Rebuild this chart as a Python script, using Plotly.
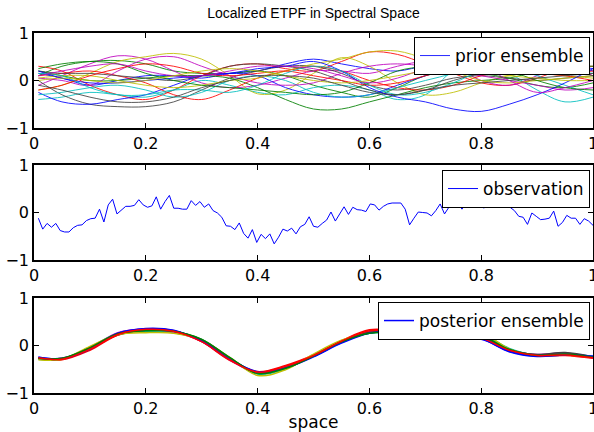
import plotly.graph_objects as go

# ---------------- data ----------------
KNOT_X = [0.0078, 0.05, 0.10, 0.15, 0.20, 0.25, 0.30, 0.35, 0.40, 0.45, 0.50,
          0.55, 0.60, 0.65, 0.70, 0.75, 0.80, 0.85, 0.90, 0.95, 1.00]

prior_1 = [0.15, 0.05, -0.1, 0.0, 0.1, 0.1, 0.05, 0.15, 0.2, 0.35, 0.45, 0.35, 0.25, 0.2, 0.3, 0.25, 0.2, 0.25, 0.35, 0.35, 0.2]
prior_2 = [0.1, 0.3, 0.4, 0.42, 0.35, 0.2, 0.15, 0.15, 0.2, 0.1, -0.1, -0.25, -0.35, -0.15, 0.1, 0.2, 0.15, 0.05, -0.1, -0.15, -0.05]
prior_3 = [0.3, 0.2, -0.1, -0.3, -0.4, -0.2, 0.1, 0.3, 0.35, 0.25, 0.2, 0.4, 0.6, 0.55, 0.35, 0.15, -0.05, -0.1, 0.05, 0.25, 0.3]
prior_4 = [-0.4, -0.35, -0.25, -0.3, -0.35, -0.2, 0.0, -0.1, -0.25, -0.3, -0.15, -0.1, -0.2, -0.4, -0.3, 0.2, 0.35, 0.15, -0.2, -0.45, -0.35]
prior_5 = [-0.1, 0.1, 0.35, 0.52, 0.45, 0.2, -0.05, -0.15, -0.1, 0.05, 0.2, 0.2, 0.15, 0.3, 0.4, 0.3, 0.0, -0.1, 0.1, 0.3, 0.1]
prior_6 = [-0.2, -0.1, 0.15, 0.4, 0.5, 0.57, 0.45, 0.1, -0.28, -0.2, 0.15, 0.48, 0.3, -0.05, -0.3, -0.25, -0.05, 0.1, 0.15, 0.1, 0.05]
prior_7 = [0.0, -0.3, -0.5, -0.55, -0.55, -0.45, -0.2, 0.05, 0.2, 0.3, 0.3, 0.15, -0.1, -0.2, -0.1, 0.05, 0.1, 0.05, 0.0, 0.05, 0.1]
prior_8 = [-0.25, -0.45, -0.5, -0.4, -0.3, -0.1, 0.1, 0.15, 0.1, -0.15, -0.3, -0.35, -0.3, -0.1, 0.1, 0.25, 0.3, 0.25, 0.2, 0.3, 0.25]
prior_9 = [0.2, 0.1, 0.0, 0.0, 0.05, 0.1, 0.1, 0.05, -0.15, -0.4, -0.6, -0.6, -0.45, -0.3, -0.15, -0.05, 0.0, 0.05, 0.2, 0.3, 0.3]
prior_10 = [0.1, 0.15, 0.2, 0.1, -0.05, -0.3, -0.4, -0.2, 0.05, 0.2, 0.3, 0.2, 0.0, -0.15, -0.2, -0.1, 0.1, 0.2, 0.15, 0.1, 0.0]
prior_11 = [-0.3, -0.25, -0.15, -0.1, -0.2, -0.35, -0.25, 0.0, 0.1, 0.0, -0.25, -0.35, -0.3, -0.15, 0.0, 0.15, 0.35, 0.3, 0.1, -0.1, -0.3]
prior_12 = [0.05, 0.0, -0.1, 0.2, 0.45, 0.5, 0.3, 0.1, -0.05, -0.1, -0.05, 0.15, 0.3, 0.35, 0.3, 0.2, 0.1, 0.0, -0.1, -0.2, -0.15]
prior_13 = [0.05, 0.1, 0.1, 0.0, -0.1, -0.15, -0.1, 0.0, 0.05, 0.2, 0.35, 0.45, 0.6, 0.62, 0.45, 0.2, 0.0, -0.05, 0.0, 0.05, 0.1]
prior_14 = [0.2, 0.15, 0.15, 0.1, 0.05, 0.0, 0.1, 0.3, 0.35, 0.3, 0.2, 0.0, -0.2, -0.3, -0.2, 0.0, 0.15, 0.25, 0.3, 0.25, 0.1]
prior_15 = [0.2, 0.05, -0.05, -0.05, 0.0, 0.05, 0.1, 0.15, 0.25, 0.3, 0.4, 0.2, -0.15, -0.35, -0.45, -0.6, -0.65, -0.5, -0.3, -0.05, 0.25]
prior_16 = [0.25, 0.35, 0.4, 0.35, 0.15, 0.0, -0.1, -0.15, -0.2, -0.25, -0.3, -0.25, -0.05, 0.2, 0.3, 0.35, 0.3, 0.2, 0.0, -0.15, -0.2]
prior_17 = [-0.2, -0.1, 0.1, 0.25, 0.35, 0.3, 0.15, 0.1, 0.15, 0.2, 0.1, 0.0, -0.1, -0.05, 0.1, 0.25, 0.35, 0.3, 0.2, 0.15, 0.2]
prior_18 = [0.15, 0.1, -0.15, -0.3, -0.3, -0.2, -0.2, -0.25, -0.1, 0.15, 0.3, 0.2, -0.1, -0.3, -0.25, -0.05, 0.2, 0.35, 0.4, 0.25, 0.15]
prior_19 = [0.1, 0.2, 0.3, 0.35, 0.2, 0.1, 0.1, 0.2, 0.3, 0.3, 0.25, 0.1, -0.05, 0.05, 0.25, 0.35, 0.3, 0.0, -0.25, -0.15, 0.0]
prior_20 = [0.0, 0.05, 0.0, -0.05, 0.0, 0.1, 0.2, 0.25, 0.2, 0.1, 0.0, -0.05, 0.0, 0.1, 0.2, 0.25, 0.2, 0.1, 0.05, 0.0, 0.0]
prior_21 = [-0.1, -0.2, -0.35, -0.45, -0.45, -0.35, -0.15, 0.0, 0.1, 0.1, 0.05, -0.1, -0.25, -0.3, -0.2, -0.1, -0.05, 0.0, 0.05, 0.1, 0.15]

PRIOR = [prior_1, prior_2, prior_3, prior_4, prior_5, prior_6, prior_7,
         prior_8, prior_9, prior_10, prior_11, prior_12, prior_13, prior_14,
         prior_15, prior_16, prior_17, prior_18, prior_19, prior_20, prior_21]

OBS_INDEX = list(range(1, 129))   # grid points, x = index / 128
OBS_VALUES = [
    -0.12, -0.35, -0.23, -0.31, -0.23, -0.38, -0.41, -0.41, -0.32, -0.27,
    -0.26, -0.17, -0.13, -0.12, 0.07, -0.20, 0.16, 0.28, -0.03, 0.06,
    0.13, 0.13, 0.15, 0.27, 0.16, 0.11, 0.14, 0.33, 0.07, 0.23,
    0.36, 0.09, 0.09, 0.07, 0.07, 0.25, 0.15, 0.23, 0.11, 0.18,
    0.04, -0.01, -0.10, -0.28, -0.29, -0.36, -0.22, -0.44, -0.54, -0.36,
    -0.63, -0.46, -0.55, -0.45, -0.66, -0.52, -0.35, -0.39, -0.33, -0.45,
    -0.30, -0.25, -0.09, -0.29, -0.31, -0.23, -0.16, 0.01, -0.18, -0.03,
    0.12, -0.04, 0.11, 0.06, 0.05, 0.02, 0.18, 0.16, 0.05, 0.13,
    0.18, 0.20, 0.20, 0.20, 0.07, -0.26, -0.12, 0.01, 0.00, -0.01,
    -0.07, 0.04, 0.18, -0.03, 0.11, 0.11, 0.22, 0.07, 0.21, 0.33,
    0.16, 0.23, 0.09, 0.22, 0.24, 0.30, 0.38, 0.20, 0.11, 0.04,
    -0.08, -0.10, -0.25, -0.01, -0.08, -0.15, -0.14, -0.12, 0.03, -0.29,
    -0.21, -0.06, -0.12, -0.12, -0.25, -0.13, -0.18, -0.27]

post_1 = [-0.25, -0.27, -0.07, 0.24, 0.35, 0.31, 0.10, -0.27, -0.56, -0.46, -0.23, 0.06, 0.27, 0.27, 0.15, 0.14, 0.13, -0.12, -0.22, -0.20, -0.22]
post_2 = [-0.28, -0.29, -0.05, 0.22, 0.31, 0.29, 0.13, -0.26, -0.58, -0.48, -0.21, 0.08, 0.27, 0.28, 0.17, 0.18, 0.19, -0.08, -0.20, -0.17, -0.25]
post_3 = [-0.26, -0.30, -0.10, 0.22, 0.33, 0.31, 0.08, -0.31, -0.55, -0.42, -0.20, 0.10, 0.33, 0.30, 0.14, 0.17, 0.16, -0.09, -0.22, -0.21, -0.27]
post_4 = [-0.29, -0.28, -0.04, 0.26, 0.30, 0.27, 0.12, -0.27, -0.60, -0.49, -0.21, 0.08, 0.26, 0.26, 0.17, 0.22, 0.23, -0.06, -0.21, -0.18, -0.23]
post_5 = [-0.27, -0.27, -0.06, 0.27, 0.34, 0.28, 0.09, -0.30, -0.58, -0.45, -0.23, 0.07, 0.29, 0.28, 0.16, 0.20, 0.18, -0.10, -0.19, -0.16, -0.26]
post_6 = [-0.30, -0.29, -0.02, 0.23, 0.27, 0.26, 0.11, -0.25, -0.63, -0.51, -0.18, 0.11, 0.27, 0.25, 0.13, 0.23, 0.26, -0.07, -0.22, -0.20, -0.25]
post_7 = [-0.27, -0.28, -0.05, 0.25, 0.32, 0.30, 0.11, -0.28, -0.57, -0.47, -0.22, 0.08, 0.28, 0.27, 0.16, 0.20, 0.19, -0.10, -0.19, -0.15, -0.24]
post_8 = [-0.24, -0.28, -0.08, 0.26, 0.36, 0.32, 0.09, -0.29, -0.55, -0.47, -0.24, 0.05, 0.26, 0.28, 0.15, 0.14, 0.14, -0.13, -0.23, -0.20, -0.23]
post_9 = [-0.27, -0.27, -0.05, 0.25, 0.31, 0.30, 0.13, -0.25, -0.59, -0.48, -0.22, 0.08, 0.26, 0.27, 0.17, 0.19, 0.20, -0.08, -0.21, -0.18, -0.25]
post_10 = [-0.26, -0.29, -0.08, 0.23, 0.34, 0.30, 0.08, -0.30, -0.56, -0.44, -0.21, 0.09, 0.31, 0.29, 0.15, 0.16, 0.15, -0.10, -0.21, -0.20, -0.26]

POSTERIOR = [post_1, post_2, post_3, post_4, post_5, post_6, post_7, post_8, post_9, post_10]

MATLAB_COLORS = ["#0000ff", "#008000", "#ff0000", "#00bfbf", "#bf00bf", "#bfbf00", "#404040"]

X_TICKS = [0, 0.2, 0.4, 0.6, 0.8, 1]
X_TICK_TEXT = ["0", "0.2", "0.4", "0.6", "0.8", "1"]
Y_TICKS = [-1, 0, 1]
Y_TICK_TEXT = ["\u22121", "0", "1"]

TITLE = "Localized ETPF in Spectral Space"
XLABEL = "space"

# ---------------- figure ----------------
W, H = 594, 432
FONT = "DejaVu Sans, Liberation Sans, Arial, sans-serif"
TFONT = "Liberation Sans, Arial, Helvetica, sans-serif"

fig = go.Figure()

for k, ys in enumerate(PRIOR):
    fig.add_trace(go.Scatter(
        x=KNOT_X, y=ys, mode="lines", line=dict(color=MATLAB_COLORS[k % 7], width=1, shape="spline"),
        opacity=0.85, name="prior ensemble", showlegend=(k == 0), legend="legend",
        xaxis="x", yaxis="y"))

fig.add_trace(go.Scatter(
    x=[i / 128 for i in OBS_INDEX], y=OBS_VALUES, mode="lines",
    line=dict(color="#0000ff", width=1), name="observation", showlegend=True,
    legend="legend2", xaxis="x2", yaxis="y2"))

for k, ys in enumerate(POSTERIOR):
    fig.add_trace(go.Scatter(
        x=KNOT_X, y=ys, mode="lines", line=dict(color=MATLAB_COLORS[k % 7], width=1.5, shape="spline"),
        name="posterior ensemble", showlegend=(k == 0), legend="legend3",
        xaxis="x3", yaxis="y3"))

x0, x1 = 34 / W, 593 / W
panels = [(33, 128), (165, 260), (298, 393)]


def ydom(top, bot):
    return [(H - bot) / H, (H - top) / H]


axis_common = dict(showline=True, linecolor="black", linewidth=1.5, mirror="ticks",
                   ticks="inside", ticklen=5, tickcolor="black", tickwidth=1,
                   showgrid=False, zeroline=False, automargin=False,
                   ticklabeloverflow="allow",
                   tickfont=dict(family=FONT, size=16, color="black"))

layout = dict(
    width=W, height=H, autosize=False, margin=dict(l=0, r=0, t=0, b=0, pad=0),
    paper_bgcolor="white", plot_bgcolor="white",
    font=dict(family=FONT, size=16, color="black"),
    title=dict(text=TITLE, x=(34 + 593) / 2 / W, xanchor="center", y=1 - 13 / H, yanchor="middle",
               automargin=False, font=dict(family=TFONT, size=14, color="black")),
)

for n, (top, bot) in enumerate(panels, start=1):
    sfx = "" if n == 1 else str(n)
    layout["xaxis" + sfx] = dict(axis_common, domain=[x0, x1], range=[0, 1], anchor="y" + sfx,
                                 tickvals=X_TICKS, ticktext=X_TICK_TEXT)
    layout["yaxis" + sfx] = dict(axis_common, domain=ydom(top, bot), range=[-1, 1], anchor="x" + sfx,
                                 tickvals=Y_TICKS, ticktext=Y_TICK_TEXT)

layout["xaxis3"]["title"] = dict(text=XLABEL, standoff=0, font=dict(family=FONT, size=17))

leg_common = dict(xanchor="right", yanchor="top", bgcolor="white", bordercolor="black",
                  borderwidth=1, font=dict(family=FONT, size=17, color="black"),
                  itemwidth=30, tracegroupgap=0)
layout["legend"] = dict(leg_common, x=590 / W, y=(H - 37) / H)
layout["legend2"] = dict(leg_common, x=590 / W, y=(H - 170) / H)
layout["legend3"] = dict(leg_common, x=590 / W, y=(H - 302) / H)

fig.update_layout(**layout)
fig.write_html("out.html", config={"displayModeBar": False},
               post_script="document.body.style.margin='0px';document.body.style.padding='0px';")
